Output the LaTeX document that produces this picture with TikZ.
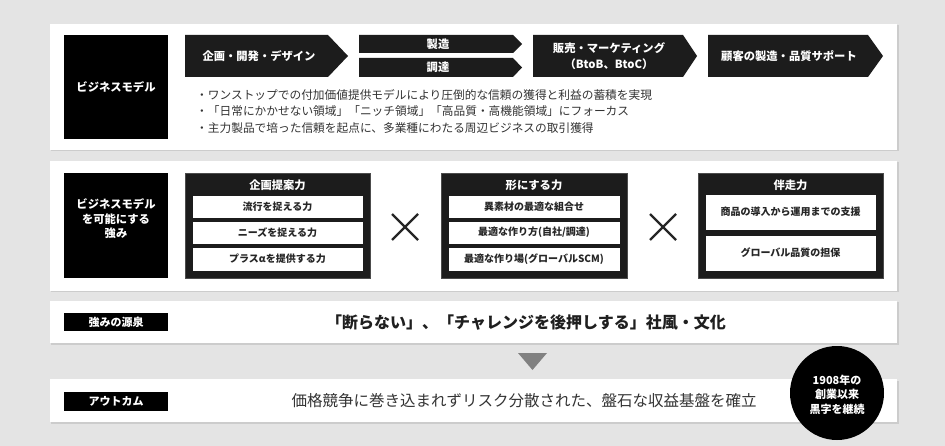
\documentclass[tikz,border=0pt]{standalone}
\usepackage{fontspec}
\usetikzlibrary{calc}
\setmainfont{Noto Sans CJK JP}
\definecolor{bg}{HTML}{E4E4E4}
\definecolor{shadow}{HTML}{CCCCCC}
\definecolor{dark}{HTML}{1C1C1C}
\definecolor{txt}{HTML}{333333}
\definecolor{tri}{HTML}{808080}
\tikzset{
  x=1pt,y=-1pt,
  panel/.style={fill=white},
  pshadow/.style={fill=shadow},
  blackbox/.style={fill=black},
  chev/.style={fill=dark},
  wlabel/.style={text=white,font=\fontsize{11.3}{14}\selectfont\bfseries,align=center,inner sep=0},
  group/.style={fill=dark,draw=black!70,line width=0.6pt},
  item/.style={fill=white,draw=dark,line width=0.6pt},
  itemtxt/.style={text=black!85,font=\fontsize{10}{12}\selectfont\bfseries,inner sep=0},
  bullet/.style={text=txt,font=\fontsize{11.7}{14}\selectfont,anchor=west,inner sep=0},
  cross/.style={line width=2.2pt,draw=black!85},
}
\begin{document}
\begin{tikzpicture}
\fill[bg] (0,0) rectangle (945,446);
\useasboundingbox (0,0) rectangle (945,446);

% ---------- Panel 1 ----------
\fill[pshadow] (51,25.5) rectangle (898.5,151.5);
\fill[panel] (50,24) rectangle (897,150);
\fill[blackbox] (64,35) rectangle (168,139);
\node[wlabel] (bm) at (116,87) {ビジネスモデル};

\fill[chev] (185,35) -- (328,35) -- (348,56) -- (328,77) -- (185,77) -- cycle;
\node[wlabel] (a1) at (259,56) {企画・開発・デザイン};
\fill[chev] (359,35) -- (513,35) -- (522,44) -- (513,53) -- (359,53) -- cycle;
\node[wlabel] (a2) at (438,44) {製造};
\fill[chev] (359,58) -- (513,58) -- (522,67.5) -- (513,77) -- (359,77) -- cycle;
\node[wlabel] (a3) at (438,67.5) {調達};
\fill[chev] (533,35) -- (683,35) -- (697,56) -- (683,77) -- (533,77) -- cycle;
\node[wlabel,font=\fontsize{11.3}{16}\selectfont\bfseries] (a4) at (609,56) {販売・マーケティング\\（BtoB、BtoC）};
\fill[chev] (708,35) -- (868,35) -- (883,56) -- (868,77) -- (708,77) -- cycle;
\node[wlabel] (a5) at (789,56) {顧客の製造・品質サポート};

\node[bullet] (b1) at (196,95) {・ワンストップでの付加価値提供モデルにより圧倒的な信頼の獲得と利益の蓄積を実現};
\node[bullet] (b2) at (196,111.5) {・「日常にかかせない領域」「ニッチ領域」「高品質・高機能領域」にフォーカス};
\node[bullet] (b3) at (196,128) {・主力製品で培った信頼を起点に、多業種にわたる周辺ビジネスの取引獲得};

% ---------- Panel 2 ----------
\fill[pshadow] (51,162.5) rectangle (898.5,292.5);
\fill[panel] (50,161) rectangle (897,291);
\fill[blackbox] (64,173) rectangle (168,278);
\node[wlabel,font=\fontsize{11.3}{14.5}\selectfont\bfseries] (bs) at (116,219) {ビジネスモデル\\を可能にする\\強み};

% group 1
\draw[group] (185,173) rectangle (370,278);
\node[wlabel] (g1) at (277.5,185) {企画提案力};
\draw[item] (192,195) rectangle (363,218);
\node[itemtxt] (g1a) at (277.5,206.5) {流行を捉える力};
\draw[item] (192,221) rectangle (363,244);
\node[itemtxt] (g1b) at (277.5,232.5) {ニーズを捉える力};
\draw[item] (192,247) rectangle (363,271);
\node[itemtxt] (g1c) at (277.5,259) {プラスαを提供する力};

\coordinate (x1) at (405,227);
\draw[cross] ($(x1)+(-13,-13)$) -- ($(x1)+(13,13)$) ($(x1)+(-13,13)$) -- ($(x1)+(13,-13)$);

% group 2
\draw[group] (441,173) rectangle (627,278);
\node[wlabel] (g2) at (534,185) {形にする力};
\draw[item] (448,195) rectangle (620,218);
\node[itemtxt] (g2a) at (534,206.5) {異素材の最適な組合せ};
\draw[item] (448,221) rectangle (620,244);
\node[itemtxt] (g2b) at (534,232.5) {最適な作り方(自社/調達)};
\draw[item] (448,247) rectangle (620,271);
\node[itemtxt] (g2c) at (534,259) {最適な作り場(グローバルSCM)};

\coordinate (x2) at (663,227);
\draw[cross] ($(x2)+(-13,-13)$) -- ($(x2)+(13,13)$) ($(x2)+(-13,13)$) -- ($(x2)+(13,-13)$);

% group 3
\draw[group] (698,173) rectangle (883,278);
\node[wlabel] (g3) at (790.5,185) {伴走力};
\draw[item] (705,194) rectangle (876,230);
\node[itemtxt] (g3a) at (790.5,212) {商品の導入から運用までの支援};
\draw[item] (705,235) rectangle (876,271);
\node[itemtxt] (g3b) at (790.5,253) {グローバル品質の担保};

% ---------- Panel 3 ----------
\fill[pshadow] (51,302.5) rectangle (898.5,344.5);
\fill[panel] (50,301) rectangle (897,343);
\fill[blackbox] (64,313) rectangle (168,331);
\node[wlabel,font=\fontsize{11}{12}\selectfont\bfseries] (src) at (116,322) {強みの源泉};
\node[text=black!88,font=\fontsize{16}{18}\selectfont\bfseries,inner sep=0] (culture) at (526,322) {「断らない」、「チャレンジを後押しする」社風・文化};

% triangle
\fill[tri] (518,353) -- (547,353) -- (532.5,370) -- cycle;

% ---------- Panel 4 ----------
\fill[pshadow] (51,380.5) rectangle (898.5,423.5);
\fill[panel] (50,379) rectangle (897,422);
\fill[blackbox] (64,392) rectangle (168,411);
\node[wlabel,font=\fontsize{11}{12}\selectfont\bfseries] (out) at (116,401.5) {アウトカム};
\node[text=txt,font=\fontsize{15.5}{18}\selectfont,inner sep=0] (result) at (524,401) {価格競争に巻き込まれずリスク分散された、盤石な収益基盤を確立};

% circle
\fill[black] (837,393) circle (47);
\node[wlabel,font=\fontsize{11}{14.5}\selectfont\bfseries] (circ) at (837,394.5) {1908年の\\創業以来\\黒字を継続};
\end{tikzpicture}
\end{document}
